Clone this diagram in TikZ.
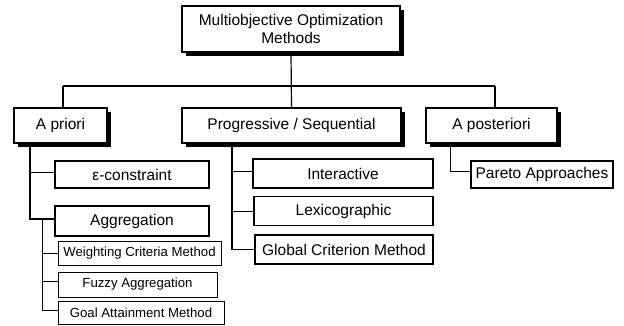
\documentclass[tikz,border=0pt]{standalone}
\usepackage{fontspec}
\setmainfont{Liberation Sans}
\usetikzlibrary{shadows}
\begin{document}
\begin{tikzpicture}[x=1pt,y=-1pt,
  base/.style={draw=black, fill=white, inner sep=0pt, text=black, anchor=center, align=center},
  mainbox/.style={base, line width=1.2pt, font=\fontsize{15.5}{18.5}\selectfont,
     drop shadow={shadow xshift=4pt, shadow yshift=-4pt, fill=black, opacity=1}},
  subbox/.style={base, line width=1.1pt, font=\fontsize{15.5}{18.5}\selectfont},
  smallbox/.style={base, line width=0.9pt, font=\fontsize{13.2}{16}\selectfont},
  conn/.style={line width=1.2pt, draw=black},
  sconn/.style={line width=1pt, draw=black}]
\useasboundingbox (0,0) rectangle (624,325);

% top
\node[mainbox, minimum width=218pt, minimum height=46pt] (top) at (291,29) {Multiobjective Optimization\\Methods};
% level 1
\node[mainbox, minimum width=93pt, minimum height=35pt] (apriori) at (60.5,125.5) {A priori};
\node[mainbox, minimum width=219pt, minimum height=35pt] (prog) at (291.5,125.5) {Progressive / Sequential};
\node[mainbox, minimum width=131pt, minimum height=35pt] (apost) at (491.5,125.5) {A posteriori};
% a priori children
\node[subbox, minimum width=154pt, minimum height=27pt] (eps) at (132,174.5) {ε-constraint};
\node[subbox, minimum width=154pt, minimum height=30pt] (aggr) at (132,221) {Aggregation};
\node[smallbox, minimum width=163pt, minimum height=24pt] (weight) at (139.5,253) {Weighting Criteria Method};
\node[smallbox, minimum width=159pt, minimum height=25pt] (fuzzy) at (137.5,284.5) {Fuzzy Aggregation};
\node[smallbox, minimum width=166pt, minimum height=23pt] (goal) at (141,312.5) {Goal Attainment Method};
% progressive children
\node[subbox, minimum width=180pt, minimum height=29pt] (inter) at (343,173.5) {Interactive};
\node[subbox, minimum width=179pt, minimum height=28.5pt] (lex) at (343.5,211) {Lexicographic};
\node[subbox, minimum width=178pt, minimum height=29pt] (glob) at (344,249.5) {Global Criterion Method};
% a posteriori child
\node[subbox, minimum width=142pt, minimum height=27pt] (pareto) at (542,174.5) {Pareto Approaches};

% coordinates
\coordinate (bus) at (291,86);
\coordinate (busL) at (63,86);
\coordinate (busR) at (495,86);
\coordinate (apL) at (63,108);
\coordinate (apoR) at (495,108);
\coordinate (t1) at (30,143);
\coordinate (t1e) at (30,172.7);
\coordinate (t1a) at (30,219);
\coordinate (ag) at (42.3,219);
\coordinate (ag1) at (42.3,253);
\coordinate (ag2) at (42.3,281.7);
\coordinate (ag3) at (42.3,310);
\coordinate (p0) at (232,143);
\coordinate (p1) at (232,171.7);
\coordinate (p2) at (232,211.7);
\coordinate (p3) at (232,249.5);
\coordinate (q0) at (450.5,143);
\coordinate (q1) at (450.5,171.7);

% connectors
\draw[conn] (top.south) -- (prog.north);
\draw[conn] (busL) -- (busR);
\draw[conn] (busL) -- (apL);
\draw[conn] (busR) -- (apoR);
\draw[conn] (t1) -- (t1a) -- (t1a -| aggr.west);
\draw[conn] (t1e) -- (t1e -| eps.west);
\draw[sconn] (ag) -- (ag3) -- (ag3 -| goal.west);
\draw[sconn] (ag1) -- (ag1 -| weight.west);
\draw[sconn] (ag2) -- (ag2 -| fuzzy.west);
\draw[conn] (p0) -- (p3) -- (p3 -| glob.west);
\draw[conn] (p1) -- (p1 -| inter.west);
\draw[conn] (p2) -- (p2 -| lex.west);
\draw[conn] (q0) -- (q1) -- (q1 -| pareto.west);
\end{tikzpicture}
\end{document}
